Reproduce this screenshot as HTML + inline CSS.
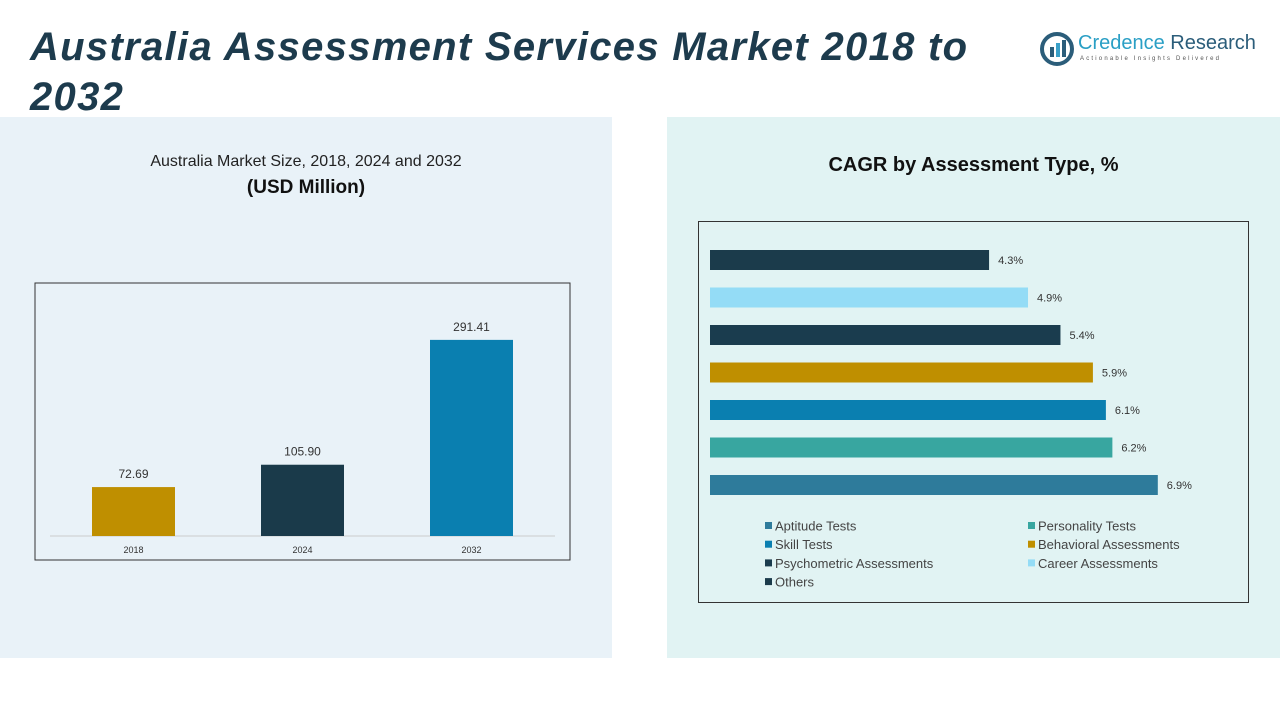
<!DOCTYPE html>
<html><head><meta charset="utf-8"><style>
body{margin:0;width:1280px;height:720px;background:#fff;position:relative;overflow:hidden;font-family:"Liberation Sans",sans-serif}
.abs{position:absolute}
</style></head><body>
<div class="abs" style="left:0;top:117px;width:612px;height:541px;background:#e9f2f8"></div>
<div class="abs" style="left:667px;top:117px;width:613px;height:541px;background:#e1f3f3"></div>
<div class="abs" style="left:30px;top:22px;width:990px;font-size:40px;line-height:50px;letter-spacing:1.3px;font-weight:bold;font-style:italic;color:#1d3b4d">Australia Assessment Services Market 2018 to 2032</div>
<div class="abs" style="left:1040px;top:32px;width:215px;height:36px">
<svg width="34" height="34" style="position:absolute;left:0;top:0"><circle cx="17" cy="17" r="15" fill="none" stroke="#2b5d7a" stroke-width="4"/><rect x="10" y="15" width="4" height="10" fill="#2b5d7a"/><rect x="16" y="11" width="4" height="14" fill="#3aa0c8"/><rect x="22" y="8" width="4" height="17" fill="#2b5d7a"/></svg>
<div class="abs" style="left:38px;top:0;font-size:20px;color:#2a9fc5;white-space:nowrap">Credence <span style="color:#2b5d7a">Research</span></div>
<div class="abs" style="left:40px;top:24px;font-size:6px;letter-spacing:2.2px;color:#555;white-space:nowrap">Actionable Insights Delivered</div>
</div>
<div class="abs" style="left:0;top:153px;width:612px;text-align:center;font-size:16px;color:#222">Australia Market Size, 2018, 2024 and 2032</div>
<div class="abs" style="left:0;top:177px;width:612px;text-align:center;font-size:19px;font-weight:bold;color:#111">(USD Million)</div>
<div class="abs" style="left:667px;top:154px;width:613px;text-align:center;font-size:20px;font-weight:bold;color:#111">CAGR by Assessment Type, %</div>
<svg id="left" class="abs" style="left:0;top:0" width="612" height="660"></svg>
<svg id="right" class="abs" style="left:0;top:0" width="1280" height="660"></svg>
<script>
const years=["2018","2024","2032"];
const sizes=[72.69,105.90,291.41];
const sizeColors=["#bf8f00","#1a3a4a","#0a7fb0"];
const types=["Others","Career Assessments","Psychometric Assessments","Behavioral Assessments","Skill Tests","Personality Tests","Aptitude Tests"];
const cagr=[4.3,4.9,5.4,5.9,6.1,6.2,6.9];
const cagrColors=["#1b3b4b","#94dcf6","#1a3c4e","#bf8f00","#0a7fb0","#38a6a0","#2e7b9b"];
const legendOrder=["Aptitude Tests","Personality Tests","Skill Tests","Behavioral Assessments","Psychometric Assessments","Career Assessments","Others"];
const NS="http://www.w3.org/2000/svg";
function mk(svg,tag,a){const e=document.createElementNS(NS,tag);for(const k in a)e.setAttribute(k,a[k]);svg.appendChild(e);return e;}
const L=document.getElementById('left');
let f=mk(L,'rect',{x:35,y:283,width:535,height:277,fill:'none',stroke:'#333','stroke-width':1});


const y0=536,ys=v=>y0-v*0.673;
let ax=mk(L,'line',{x1:50,x2:555,y1:y0,y2:y0,stroke:'#ccc'});


const xs=i=>133.5+i*169;
years.forEach((y,i)=>{
 const b=mk(L,'rect',{x:xs(i)-41.5,y:ys(sizes[i]),width:83,height:y0-ys(sizes[i]),fill:sizeColors[i]});
 
 
 const t=mk(L,'text',{x:xs(i),y:ys(sizes[i])-9,'text-anchor':'middle','font-size':12,fill:'#333'});t.textContent=sizes[i].toFixed(2);
 
 
 const l=mk(L,'text',{x:xs(i),y:553,'text-anchor':'middle','font-size':9,fill:'#333'});l.textContent=y;
 
 
});
const R=document.getElementById('right');
let f2=mk(R,'rect',{x:698.5,y:221.5,width:550,height:381,fill:'none',stroke:'#333','stroke-width':1});


const x0=710,xsc=v=>x0+v*64.9;
types.forEach((t,i)=>{
 const cy=260+i*37.5;
 const b=mk(R,'rect',{x:x0,y:cy-10,width:xsc(cagr[i])-x0,height:20,fill:cagrColors[i]});
 
 
 const l=mk(R,'text',{x:xsc(cagr[i])+9,y:cy+4,'font-size':11,fill:'#333'});l.textContent=cagr[i]+'%';
 
 
});
legendOrder.forEach((t,i)=>{
 const c=cagrColors[types.indexOf(t)];
 const x=i%2?1028:765,y=526+Math.floor(i/2)*18.7;
 const s=mk(R,'rect',{x:x,y:y-4,width:7,height:7,fill:c});
 
 
 const tx=mk(R,'text',{x:x+10,y:y+4.5,'font-size':13,fill:'#444'});tx.textContent=t;
 
 
});
</script>
</body></html>
